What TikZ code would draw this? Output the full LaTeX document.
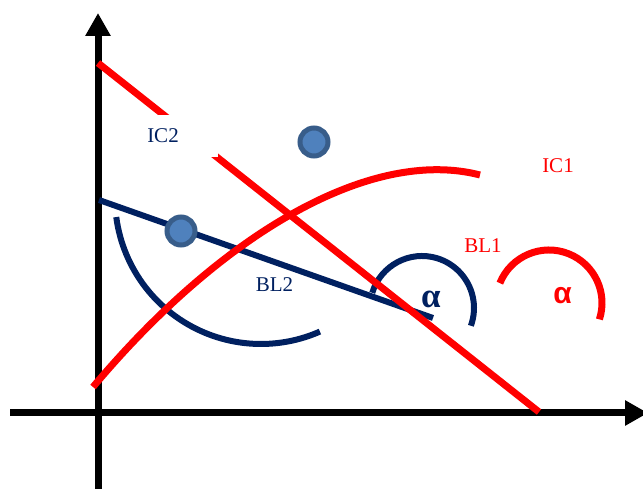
\documentclass[tikz,border=0pt]{standalone}
\usepackage{fontspec}
\setmainfont{Liberation Serif}
\setsansfont{Liberation Sans}
\usetikzlibrary{arrows.meta}
\definecolor{navycol}{HTML}{002060}
\definecolor{redcol}{HTML}{FF0000}
\definecolor{dotfill}{HTML}{4F81BD}
\definecolor{dotdraw}{HTML}{385D8A}
\tikzset{
  axisline/.style={line width=7pt, -{Triangle[length=23pt, width=24pt]}},
  redline/.style={line width=7pt, draw=redcol},
  navyline/.style={line width=6pt, draw=navycol},
  dnode/.style={circle, draw=dotdraw, fill=dotfill, line width=5pt, minimum size=28pt, inner sep=0pt},
  lnode/.style={font=\fontsize{21}{25}\selectfont, inner sep=0pt},
  anode/.style={font=\bfseries\fontsize{35}{40}\selectfont, inner sep=0pt},
}

\begin{document}
\begin{tikzpicture}[x=1pt, y=1pt]
  \useasboundingbox (0,0) rectangle (643,489);
  % axes
  \coordinate (O1) at (98,0);
  \coordinate (Ytip) at (98,476);
  \coordinate (X0) at (10,76);
  \coordinate (Xtip) at (648,76);
  \draw[axisline] (O1) -- (Ytip);
  \draw[axisline] (X0) -- (Xtip);
  % angle arcs
  \draw[navyline] (261,291) ++(187.5:146) arc (187.5:293.8:146);
  \draw[navyline] (422,181) ++(163:52) arc (163:-20:52);
  \draw[redline]  (549,186) ++(158:53) arc (158:-18:53);
  % lines
  \coordinate (B2a) at (99,289);
  \coordinate (B2b) at (433,171);
  \draw[navyline] (B2a) -- (B2b);
  \coordinate (B1a) at (98,426);
  \coordinate (B1b) at (539,77);
  \draw[redline] (B1a) -- (B1b);
  \coordinate (C1a) at (93,102);
  \coordinate (C1b) at (480,314);
  \draw[redline] (C1a) .. controls (223,257) and (372,342) .. (C1b);
  % points
  \node[dnode] (D1) at (314,347) {};
  \node[dnode] (D2) at (181,258) {};
  % labels
  \node[lnode, text=navycol, fill=white, minimum width=110pt, minimum height=42pt] (IC2) at (163,353) {IC2};
  \node[lnode, text=redcol] (IC1) at (558,323.5) {IC1};
  \node[lnode, text=redcol] (BL1) at (483,243) {BL1};
  \node[lnode, text=navycol] (BL2) at (274.5,204.5) {BL2};
  \node[anode, text=navycol] (A2) at (431,190) {α};
  \node[anode, text=redcol, font=\sffamily\bfseries\fontsize{30}{34}\selectfont] (A1) at (562.5,193.5) {α};
\end{tikzpicture}
\end{document}
